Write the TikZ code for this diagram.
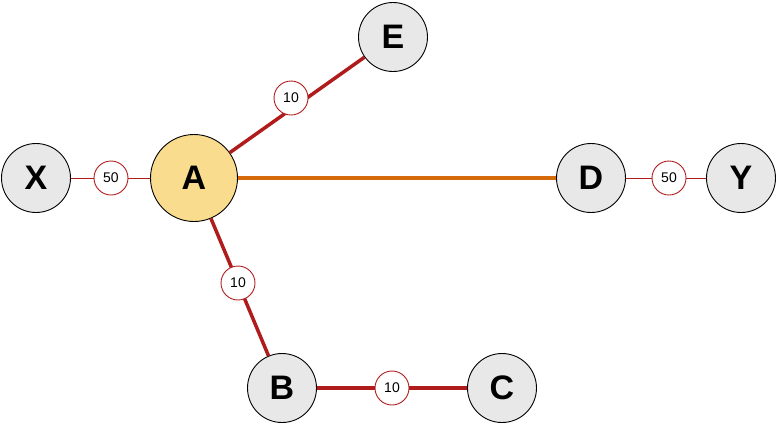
\documentclass[tikz,border=0pt]{standalone}
\usepackage{fontspec}
\setmainfont{Liberation Sans}
\usetikzlibrary{positioning,calc}
\definecolor{edgered}{HTML}{B01C1C}
\definecolor{edgeorange}{HTML}{D66A0A}
\definecolor{nodegray}{HTML}{E8E8E8}
\definecolor{rootyellow}{HTML}{F9DC8E}

\begin{document}
\begin{tikzpicture}[x=1pt,y=-1pt,
        main node/.style={draw, circle, fill=nodegray, line width=0.9pt, minimum size=69pt, inner sep=0pt, font=\fontsize{34}{40}\selectfont\bfseries},
        root node/.style={main node, fill=rootyellow, minimum size=87pt},
        weight/.style={draw=edgered, fill=white, circle, line width=0.9pt, minimum size=34pt, inner sep=0pt, font=\fontsize{14}{16}\selectfont},
        heavy/.style={edgered, line width=3.5pt},
        light/.style={edgered, line width=0.8pt}]
\useasboundingbox (0,0) rectangle (777,424);

\node[root node] (A) at (194,178) {A};
\node[main node] (X) at (36,178) {X};
\node[main node] (E) at (393,37) {E};
\node[main node] (D) at (591,178) {D};
\node[main node] (Y) at (741,178) {Y};
\node[main node] (B) at (282,388) {B};
\node[main node] (C) at (502,388) {C};

\draw[light] (X) -- (A);
\draw[light] (D) -- (Y);
\draw[heavy] (A) -- (E);
\draw[heavy] (A) -- (B);
\draw[heavy] (B) -- (C);
\draw[edgeorange, line width=3.5pt] (A) -- (D);

\node[weight] (w1) at (111,178) {50};
\node[weight] (w2) at (291,98) {10};
\node[weight] (w3) at (238,283) {10};
\node[weight] (w4) at (392,388) {10};
\node[weight] (w5) at (669,178) {50};

\end{tikzpicture}
\end{document}
